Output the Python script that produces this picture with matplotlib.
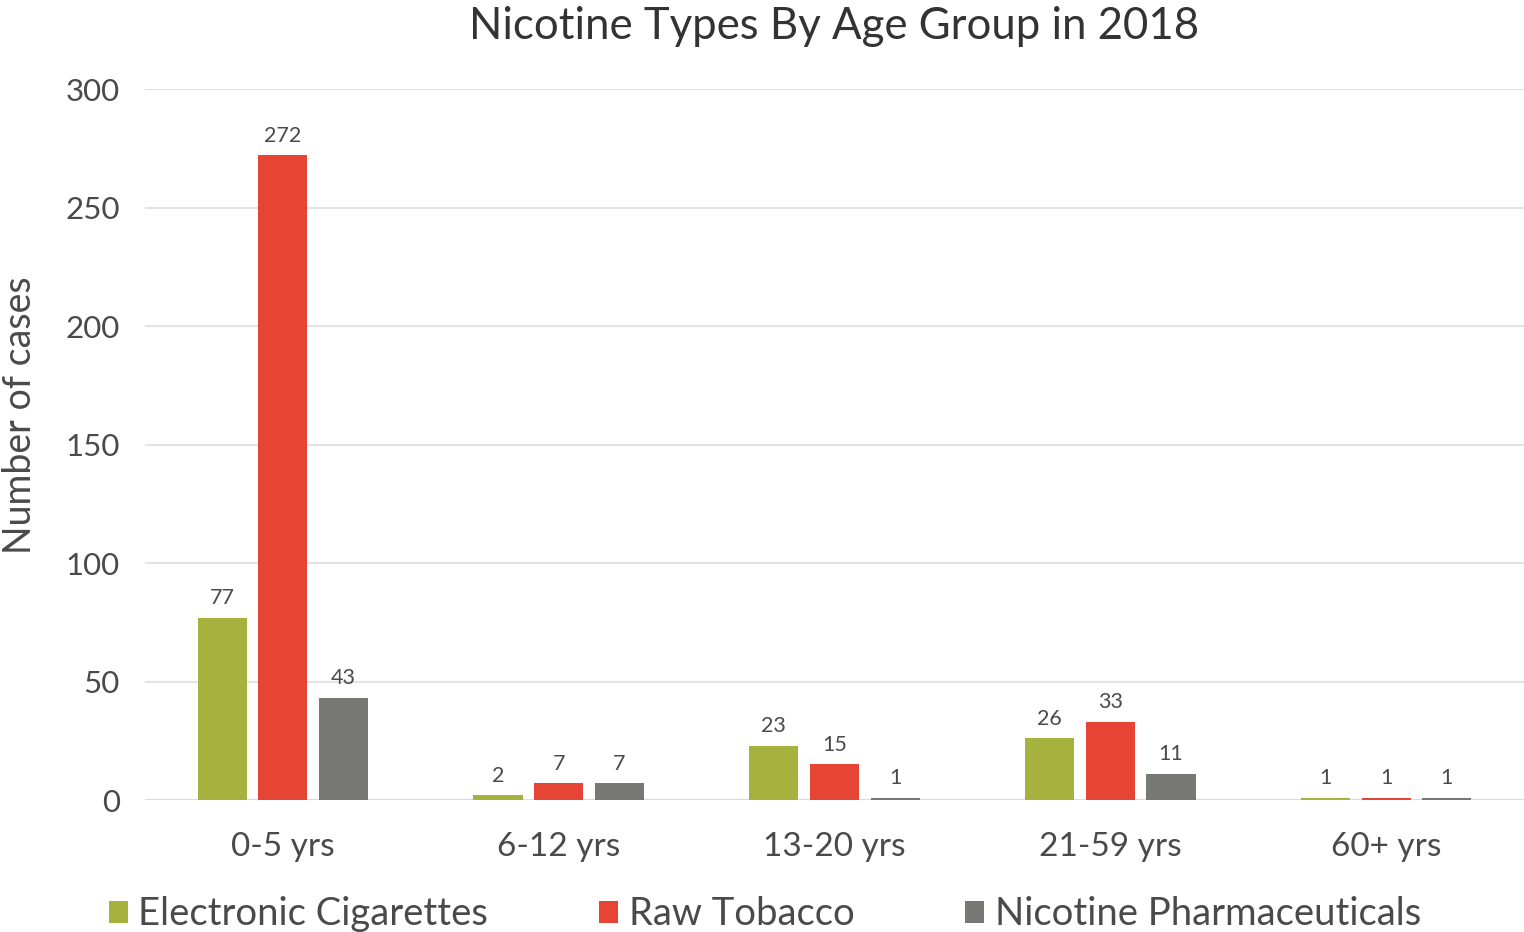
import numpy as np
import matplotlib.pyplot as plt
from matplotlib.patches import Patch

plt.rcParams['font.family'] = ['Lato', 'DejaVu Sans']

age_groups = ['0-5 yrs', '6-12 yrs', '13-20 yrs', '21-59 yrs', '60+ yrs']
series_names = ['Electronic Cigarettes', 'Raw Tobacco', 'Nicotine Pharmaceuticals']
e_cigs = [77, 2, 23, 26, 1]
raw_tobacco = [272, 7, 15, 33, 1]
pharma = [43, 7, 1, 11, 1]
y_ticks = [0, 50, 100, 150, 200, 250, 300]

colors = ['#a5b23d', '#e64535', '#787875']
txt = '#4a4a4a'

fig = plt.figure(figsize=(15.24, 9.32), dpi=100)
ax = fig.add_axes([0.0951, 0.1416, 0.9049, 0.7629])

x = np.arange(len(age_groups))
w = 0.178
step = 0.22
for k, (vals, c) in enumerate(zip([e_cigs, raw_tobacco, pharma], colors)):
    bars = ax.bar(x + (k - 1) * step, vals, width=w, color=c, zorder=3)
    for b, v in zip(bars, vals):
        ax.text(b.get_x() + b.get_width() / 2, v + 8.3, str(v), ha='center',
                va='center', fontsize=15.5, color=txt)

ax.set_xlim(-0.5, 4.5)
ax.set_ylim(0, 300)
ax.set_yticks(y_ticks)
ax.set_xticks(x)
ax.set_xticklabels(age_groups)
ax.grid(axis='y', color='#e3e3e3', linewidth=1.5, zorder=0)
for s in ax.spines.values():
    s.set_visible(False)
ax.axhline(0, color='#dcdcdc', linewidth=1.5, zorder=2)
ax.tick_params(axis='both', length=0, colors=txt)
ax.tick_params(axis='y', pad=18, labelsize=22.5)
ax.tick_params(axis='x', pad=23, labelsize=24)

# axis title sits a little above the plot's middle
fig.text(20 / 1524, 1 - 415 / 932, 'Number of cases', rotation=90,
         ha='center', va='center', fontsize=27, color=txt)

fig.text(0.547, 0.972, 'Nicotine Types By Age Group in 2018', ha='center',
         va='center', fontsize=31.5, color='#333333')

handles = [Patch(facecolor=c) for c in colors]
fig.legend(handles, series_names, loc='center', bbox_to_anchor=(0.502, 0.019),
           ncol=3, frameon=False, fontsize=27.5, labelcolor=txt,
           handlelength=0.5, handleheight=0.5, handletextpad=0.28,
           columnspacing=2.9, borderaxespad=0)

fig.savefig('out.png', dpi=100)
